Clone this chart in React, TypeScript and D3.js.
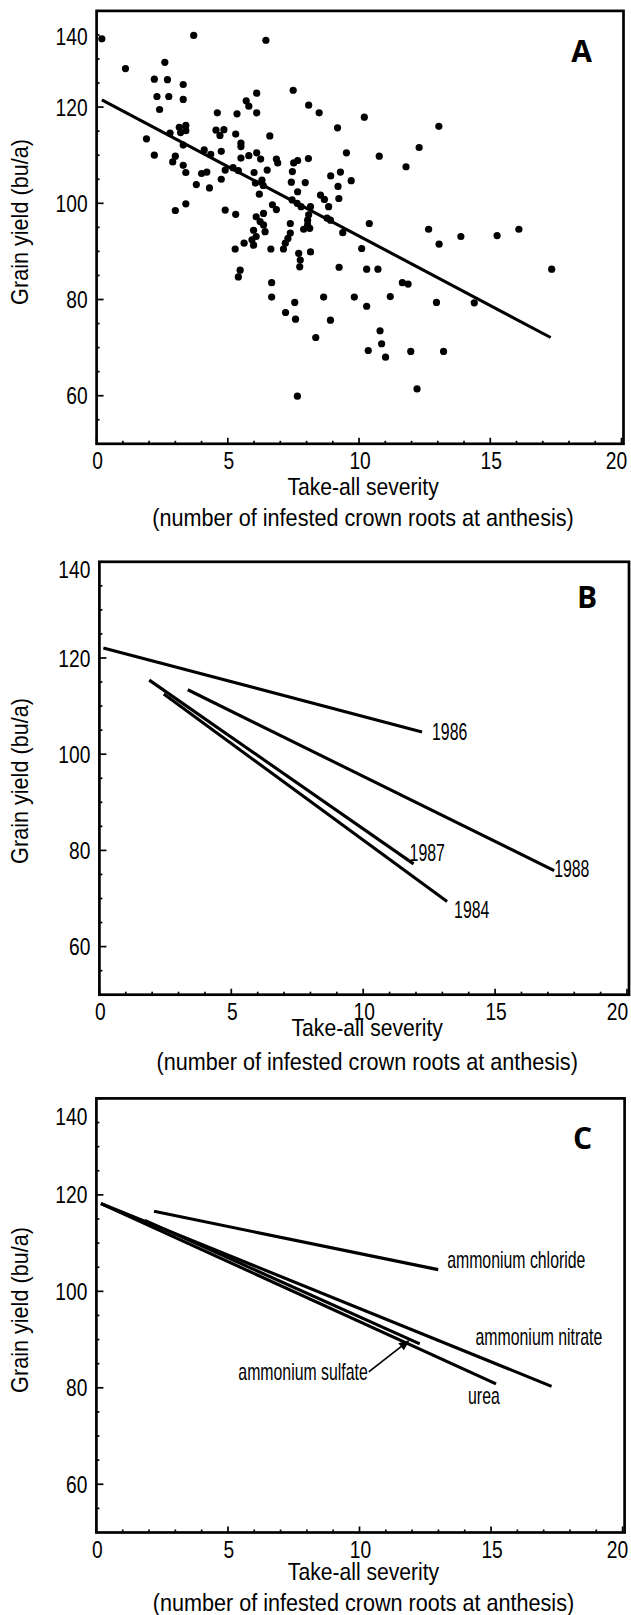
import React from 'react';
import * as d3 from 'd3';

// ---------- shared axis data ----------
const xTicks = [0, 5, 10, 15, 20];
const xMinorTicks = [1, 2, 3, 4, 6, 7, 8, 9, 11, 12, 13, 14, 16, 17, 18, 19];
const yTicks = [60, 80, 100, 120, 140];
const yMinorTicks = [55, 65, 70, 75, 85, 90, 95, 105, 110, 115, 125, 130, 135];
const xTitle1 = 'Take-all severity';
const xTitle2 = '(number of infested crown roots at anthesis)';
const yTitle = 'Grain yield (bu/a)';

// ---------- panel A: scatter + regression ----------
const panelAPoints: [number, number][] = [
  [0.2, 134.2], [3.7, 134.9], [6.45, 133.9], [1.1, 128.0], [2.6, 129.3], [2.2, 125.8], [2.7, 125.7],
  [3.3, 124.7], [2.3, 122.2], [2.75, 122.2], [3.3, 121.6], [2.4, 119.5],
  [1.9, 113.4], [2.2, 110.0], [2.8, 114.6], [3.15, 115.8], [3.4, 116.2], [3.2, 114.7], [3.4, 115.1], [3.3, 112.1],
  [3.0, 109.8], [2.9, 108.6], [3.3, 107.9], [3.4, 106.4], [3.8, 103.9], [4.3, 103.2], [4.1, 111.1], [4.35, 110.2],
  [4.0, 106.2], [4.2, 106.5], [3.4, 99.9], [3.0, 98.5],
  [4.55, 115.2], [4.85, 115.3], [4.7, 114.1], [4.75, 110.8], [4.6, 118.8], [5.35, 118.6], [5.3, 114.4], [5.5, 112.5],
  [5.5, 111.8], [5.5, 109.4], [4.9, 106.9], [4.75, 105.0], [5.2, 107.4], [5.4, 106.8], [4.9, 98.6], [5.3, 97.7],
  [6.1, 122.9], [5.7, 121.3], [5.8, 120.2], [6.1, 118.8], [5.8, 109.9], [6.1, 110.5], [6.25, 109.2], [6.0, 106.4],
  [6.05, 104.2], [6.2, 101.9], [6.3, 104.8], [6.35, 103.7], [6.5, 106.9], [6.6, 114.0], [6.85, 109.2], [6.9, 108.4],
  [6.7, 99.7], [6.85, 98.7],
  [6.08, 97.2], [6.36, 97.9], [6.23, 96.2], [6.36, 95.5], [6.42, 94.1], [5.98, 94.4], [6.08, 93.1], [5.92, 92.4],
  [5.98, 91.3], [5.62, 91.7], [5.28, 90.5], [6.64, 90.5],
  [5.47, 86.1], [5.4, 84.7], [6.67, 83.5], [6.67, 80.5], [7.2, 77.3],
  [7.45, 100.7], [7.64, 100.0], [7.79, 99.3], [8.15, 99.3], [8.08, 97.6], [8.04, 96.5], [8.04, 95.5], [7.89, 94.6],
  [8.12, 94.8], [8.78, 96.9], [8.91, 96.5], [8.53, 101.7], [8.68, 100.8], [8.84, 99.3], [9.23, 101.0], [9.2, 103.5],
  [9.38, 93.9], [7.38, 95.8], [7.38, 93.8], [7.29, 92.7], [7.19, 91.7], [7.12, 90.5], [7.7, 89.6], [8.15, 89.9],
  [7.76, 88.2], [7.74, 86.8], [9.24, 86.7],
  [7.42, 104.4], [7.95, 104.3], [7.66, 102.4], [7.46, 106.6], [7.51, 108.4], [7.66, 108.9], [8.07, 109.3],
  [8.92, 105.7], [9.29, 106.5], [9.7, 104.7], [9.52, 110.5],
  [7.49, 123.5], [8.08, 120.4], [8.48, 118.8], [9.18, 115.7], [10.2, 117.9], [13.04, 116.0], [12.29, 111.6],
  [11.79, 107.6], [10.77, 109.8],
  [10.39, 95.8], [12.65, 94.6], [13.05, 91.5], [13.88, 93.1], [10.1, 90.6], [10.29, 86.3], [10.72, 86.3],
  [11.65, 83.5], [11.87, 83.2], [14.39, 79.3], [12.95, 79.4], [11.19, 80.6], [9.82, 80.5], [10.29, 78.6],
  [8.65, 80.5], [7.55, 79.4], [7.58, 75.9], [8.91, 75.7], [8.35, 72.1], [10.8, 73.5], [10.86, 70.8], [11.01, 68.0],
  [10.35, 69.4], [11.97, 69.2], [13.22, 69.2], [12.21, 61.4], [7.65, 59.9],
  [15.26, 93.3], [16.09, 94.6], [17.34, 86.3],
];
const panelAFit: [number, number][] = [[0.2, 121.5], [17.3, 72.1]];

// ---------- panel B: regression lines by year ----------
const yearNames = ['1986', '1988', '1987', '1984'];
const yearStart: [number, number][] = [[0.15, 122.1], [3.35, 113.4], [1.89, 115.4], [2.44, 112.5]];
const yearEnd: [number, number][] = [[12.23, 104.6], [17.24, 75.8], [11.91, 77.2], [13.18, 69.4]];

// ---------- panel C: regression lines by N source ----------
const sourceNames = ['ammonium chloride', 'ammonium nitrate', 'urea', 'ammonium sulfate'];
const sourceStart: [number, number][] = [[2.19, 116.6], [0.17, 118.2], [0.17, 118.2], [1.84, 114.7]];
const sourceEnd: [number, number][] = [[12.99, 104.5], [17.3, 80.3], [15.19, 80.8], [12.29, 89.1]];

// ---------- layout / style (pixels) ----------
type Layout = {
  x0: number; x20: number; y140: number; y50: number;
  letter: string; letterDy: number; topLabelShift: number; yTitleY: number;
  t1: number; t2: number;
};
const layouts: Layout[] = [
  { x0: 96.6, x20: 621.5, y140: 10.9, y50: 443.8, letter: 'A', letterDy: 51, topLabelShift: 26, yTitleY: 222, t1: 51, t2: 82 },
  { x0: 99.4, x20: 627.0, y140: 561.8, y50: 994.7, letter: 'B', letterDy: 46, topLabelShift: 8, yTitleY: 781, t1: 41, t2: 75 },
  { x0: 96.4, x20: 622.6, y140: 1098.4, y50: 1532.5, letter: 'C', letterDy: 51, topLabelShift: 18, yTitleY: 1310, t1: 47, t2: 78 },
];
const yearLabelOffset: [number, number][] = [[10, 8], [0, 6], [-4, -3], [7, 17]];
const sourceLabelOffset: [number, number][] = [[9, -2], [-76, -41], [-28, 20], [-52, 36]];

const FONT = "'Liberation Sans', Arial, Helvetica, sans-serif";
const SQUEEZE = 0.66;
const TICK_SQ = 0.8;
const TITLE_SQ = 0.88;
const LW = 3.1;

function SqText({ x, y, s, size, anchor, children }: { x: number; y: number; s: number; size: number; anchor?: string; children: React.ReactNode }) {
  return (
    <text transform={`translate(${x},${y}) scale(${s},1)`} fontSize={size} fontFamily={FONT} textAnchor={anchor || 'start'}>
      {children}
    </text>
  );
}

function Panel({ L, children }: { L: Layout; children: (x: d3.ScaleLinear<number, number>, y: d3.ScaleLinear<number, number>) => React.ReactNode }) {
  const x = d3.scaleLinear().domain([0, 20]).range([L.x0, L.x20]);
  const y = d3.scaleLinear().domain([50, 140]).range([L.y50, L.y140]);
  const midX = (L.x0 + L.x20) / 2 + 4;
  return (
    <g>
      <rect x={x(0)} y={y(140)} width={x(20) + 2 - x(0)} height={y(50) - y(140)} fill="none" stroke="#000" strokeWidth={2.7} />
      {xTicks.map((t) => (
        <g key={'xt' + t}>
          <line x1={x(t)} x2={x(t)} y1={y(50)} y2={y(50) - 6} stroke="#000" strokeWidth={1.7} />
          <SqText x={t === 20 ? Math.min(x(t) - 5, 617.5) : x(t) + 1} y={y(50) + 25} s={TICK_SQ} size={24} anchor="middle">{t}</SqText>
        </g>
      ))}
      {xMinorTicks.map((t) => (
        <line key={'xm' + t} x1={x(t)} x2={x(t)} y1={y(50)} y2={y(50) - 3} stroke="#000" strokeWidth={1.7} />
      ))}
      {yTicks.map((t) => (
        <g key={'yt' + t}>
          <line x1={x(0)} x2={x(0) + 7} y1={y(t)} y2={y(t)} stroke="#000" strokeWidth={1.7} />
          <SqText x={x(0) - 9} y={y(t) + 8.5 + (t === 140 ? L.topLabelShift : 0)} s={TICK_SQ} size={24} anchor="end">{t}</SqText>
        </g>
      ))}
      {yMinorTicks.map((t) => (
        <line key={'ym' + t} x1={x(0)} x2={x(0) + 3} y1={y(t)} y2={y(t)} stroke="#000" strokeWidth={1.7} />
      ))}
      <SqText x={midX} y={y(50) + L.t1} s={TITLE_SQ} size={24} anchor="middle">{xTitle1}</SqText>
      <SqText x={midX} y={y(50) + L.t2} s={0.9} size={24} anchor="middle">{xTitle2}</SqText>
      <text transform={`translate(28,${L.yTitleY}) rotate(-90) scale(0.94,1)`} textAnchor="middle" fontSize={23} fontFamily={FONT}>{yTitle}</text>
      <text x={x(20) - 40} y={y(140) + L.letterDy} textAnchor="middle" fontSize={30} fontWeight={700} fontFamily="'Open Sans', 'DejaVu Sans', sans-serif">{L.letter}</text>
      {children(x, y)}
    </g>
  );
}

export default function App() {
  const line = (x: any, y: any) => d3.line<[number, number]>().x((d) => x(d[0])).y((d) => y(d[1]));
  return (
    <svg width={631} height={1615} style={{ position: 'absolute', left: 0, top: 0, background: '#fff' }}>
      <rect x={0} y={0} width={631} height={1615} fill="#fff" />
      <Panel L={layouts[0]}>
        {(x, y) => (
          <g>
            {panelAPoints.map((p, i) => (
              <circle key={i} cx={x(p[0])} cy={y(p[1])} r={3.6} fill="#000" />
            ))}
            <path d={line(x, y)(panelAFit) || ''} fill="none" stroke="#000" strokeWidth={LW} />
          </g>
        )}
      </Panel>
      <Panel L={layouts[1]}>
        {(x, y) => (
          <g>
            {yearNames.map((n, i) => (
              <g key={n}>
                <path d={line(x, y)([yearStart[i], yearEnd[i]]) || ''} fill="none" stroke="#000" strokeWidth={LW} />
                <SqText x={x(yearEnd[i][0]) + yearLabelOffset[i][0]} y={y(yearEnd[i][1]) + yearLabelOffset[i][1]} s={SQUEEZE} size={24}>{n}</SqText>
              </g>
            ))}
          </g>
        )}
      </Panel>
      <Panel L={layouts[2]}>
        {(x, y) => {
          const i = 3;
          const ex = x(sourceEnd[i][0]);
          const ey = y(sourceEnd[i][1]);
          const tail: [number, number] = [ex - 51, ey + 28];
          const tip: [number, number] = [ex - 10, ey - 4];
          const ang = Math.atan2(tip[1] - tail[1], tip[0] - tail[0]);
          const hl = 11, hw = 4.5;
          const bx = tip[0] - hl * Math.cos(ang), by = tip[1] - hl * Math.sin(ang);
          const head = [
            [tip[0], tip[1]],
            [bx + hw * Math.sin(ang), by - hw * Math.cos(ang)],
            [bx - hw * Math.sin(ang), by + hw * Math.cos(ang)],
          ].map((p) => p.join(',')).join(' ');
          return (
            <g>
              {sourceNames.map((n, k) => (
                <g key={n}>
                  <path d={line(x, y)([sourceStart[k], sourceEnd[k]]) || ''} fill="none" stroke="#000" strokeWidth={LW} />
                  <SqText
                    x={x(sourceEnd[k][0]) + sourceLabelOffset[k][0]}
                    y={y(sourceEnd[k][1]) + sourceLabelOffset[k][1]}
                    s={SQUEEZE} size={24} anchor={k === 3 ? 'end' : 'start'}
                  >{n}</SqText>
                </g>
              ))}
              <line x1={tail[0]} y1={tail[1]} x2={bx} y2={by} stroke="#000" strokeWidth={1.7} />
              <polygon points={head} fill="#000" />
            </g>
          );
        }}
      </Panel>
    </svg>
  );
}
